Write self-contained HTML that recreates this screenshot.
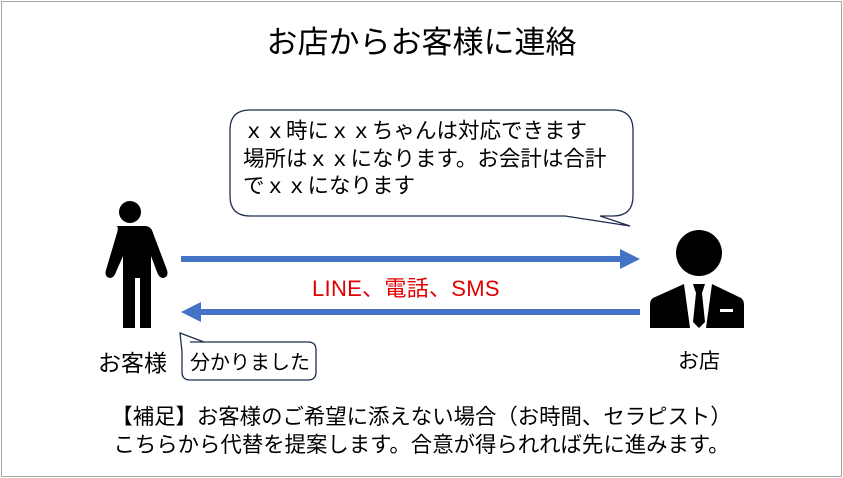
<html><body style="margin:0;width:843px;height:478px;background:#fff;position:relative;font-family:'Liberation Sans','Noto Sans CJK JP',sans-serif;overflow:hidden">
<div style="position:absolute;left:1px;top:1px;width:839px;height:474px;border:1px solid #a6a6a6"></div>
<div style="position:absolute;left:0;width:843px;top:24px;text-align:center;font-size:31px;line-height:38px;color:#000">お店からお客様に連絡</div>
<svg width="843" height="478" style="position:absolute;left:0;top:0">
<path d="M250,110 H613 Q633,110 633,130 V196 Q633,216 613,216 H600 L630,226 L565,216 H250 Q230,216 230,196 V130 Q230,110 250,110 Z" fill="#fff" stroke="#1f2d4e" stroke-width="1.3"/>
<path d="M190,342 H308 Q316,342 316,350 V372 Q316,380 308,380 H190 Q182,380 182,372 V352 L180,333 L204,342 Z" fill="#fff" stroke="#1f2d4e" stroke-width="1.3"/>
<line x1="181" y1="259" x2="622" y2="259" stroke="#4472c4" stroke-width="6"/>
<polygon points="620,249 640,259 620,269" fill="#4472c4"/>
<line x1="200" y1="312" x2="640" y2="312" stroke="#4472c4" stroke-width="6"/>
<polygon points="201,302 181,312 201,322" fill="#4472c4"/>
<g fill="#000">
<circle cx="130" cy="212" r="11"/>
<path d="M116,226 H145 Q151,226 153,233 L167,270 Q169,277 163,278 Q159,278 157,272 L151,256 V328 H140 V278 H135 V328 H123 V256 L116,272 Q114,278 110,278 Q104,277 106,270 L117,233 Q119,226 116,226 Z"/>
<circle cx="699" cy="253" r="23"/>
<path d="M684,284 L653,298 Q650,300 650,305 V328 H744 V305 Q744,300 741,298 L712,284 L706,328 H690 Z"/>
<path d="M693,284 H705 L702,293 L705,322 L699,328 L693,322 L696,293 Z"/>
</g>
<rect x="720" y="309" width="13" height="3" fill="#fff"/>
</svg>
<div style="position:absolute;left:243px;top:118px;font-size:21.5px;line-height:27.5px;color:#000;white-space:nowrap">ｘｘ時にｘｘちゃんは対応できます<br>場所はｘｘになります。お会計は合計<br>でｘｘになります</div>
<div style="position:absolute;left:190px;top:346px;font-size:20px;color:#000">分かりました</div>
<div style="position:absolute;left:312px;top:271px;font-size:22px;color:#e00000;letter-spacing:0.3px">LINE、電話、SMS</div>
<div style="position:absolute;left:98px;top:344px;font-size:23px">お客様</div>
<div style="position:absolute;left:678px;top:345px;font-size:21px">お店</div>
<div style="position:absolute;left:0;width:843px;top:403px;text-align:center;font-size:21.4px;line-height:28px;white-space:nowrap">【補足】お客様のご希望に添えない場合（お時間、セラピスト）<br>こちらから代替を提案します。合意が得られれば先に進みます。</div>
</body></html>
